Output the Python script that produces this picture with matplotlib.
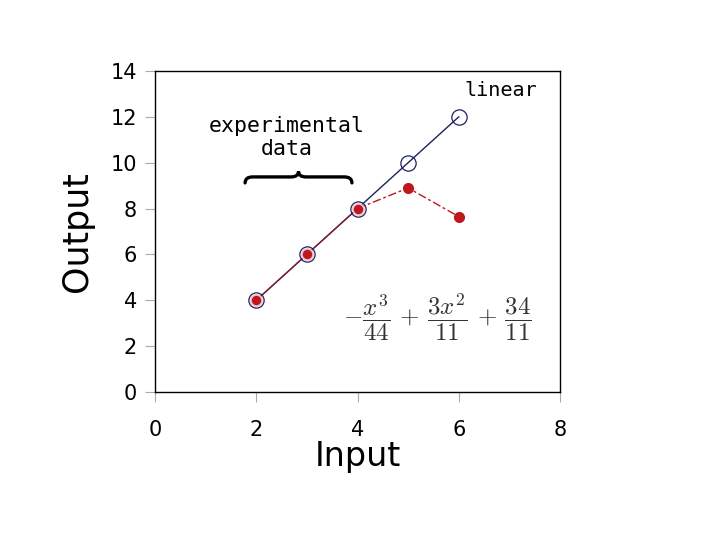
import matplotlib
matplotlib.use("Agg")
import matplotlib.pyplot as plt
import numpy as np
from matplotlib.path import Path
from matplotlib.patches import PathPatch

plt.rcParams['mathtext.fontset'] = 'cm'

# data
exp_x = [2, 3, 4]
exp_y = [4, 6, 8]
lin_x = [2, 3, 4, 5, 6]
lin_y = [4, 6, 8, 10, 12]
cub_x = [4, 5, 6]
cub_y = [8, 8.9, 7.65]
xticks = [0, 2, 4, 6, 8]
yticks = [0, 2, 4, 6, 8, 10, 12, 14]

navy = '#1c2260'
red = '#c0161e'

fig = plt.figure(figsize=(7.2, 5.4), dpi=100)
ax = fig.add_axes([155/720, 1-392/540, 405/720, 321/540])

ax.plot(lin_x, lin_y, '-', color=navy, lw=1.0, zorder=2)
ax.plot(exp_x, exp_y, '-', color='#8a1a2a', lw=0.9, zorder=3)
ax.plot(cub_x, cub_y, color=red, lw=1.0, dashes=(6, 2, 2, 2), zorder=3)
ax.plot(lin_x, lin_y, 'o', mfc='none', mec=navy, ms=11, mew=0.9, zorder=4)
ax.plot(cub_x[1:], cub_y[1:], 'o', color=red, ms=7, mec=red, zorder=5)
ax.plot(exp_x, exp_y, 'o', color=red, ms=8, mec='#f2c4c8', mew=1.2, zorder=5)

ax.set_xlim(0, 8)
ax.set_ylim(0, 14)
ax.set_xticks(xticks)
ax.set_yticks(yticks)
ax.tick_params(axis='both', direction='out', color='#aaaaaa', length=7, width=0.8,
               labelsize=15)
ax.tick_params(axis='x', pad=13)
ax.tick_params(axis='y', pad=6)
for s in ax.spines.values():
    s.set_linewidth(1.0)
    s.set_color('black')

ax.set_xlabel('Input', fontsize=24, labelpad=0)
ax.set_ylabel('Output', fontsize=25, labelpad=12)

ax.text(6.83, 13.13, 'linear', fontsize=14.5, family='DejaVu Sans Mono',
        ha='center', va='center')
ax.text(2.6, 11.1, 'experimental\ndata', fontsize=15.5, family='DejaVu Sans Mono',
        ha='center', va='center', multialignment='center', linespacing=1.2)

# curly brace
x0, x1, xm = 1.78, 3.89, 2.835
yb, yt, ye = 9.38, 9.62, 9.12
dx = 0.15
verts = [
    (x0, ye),
    (x0, yb), (x0 + dx, yb),
    (xm - dx, yb),
    (xm, yb), (xm, yt),
    (xm, yb), (xm + dx, yb),
    (x1 - dx, yb),
    (x1, yb), (x1, ye),
]
codes = [Path.MOVETO,
         Path.CURVE3, Path.CURVE3,
         Path.LINETO,
         Path.CURVE3, Path.CURVE3,
         Path.CURVE3, Path.CURVE3,
         Path.LINETO,
         Path.CURVE3, Path.CURVE3]
ax.add_patch(PathPatch(Path(verts, codes), fc='none', ec='black', lw=2.4, zorder=6,
                       capstyle='round'))

ax.text(5.57, 3.27, r'$-\dfrac{x^3}{44}\,+\,\dfrac{3x^2}{11}\,+\,\dfrac{34}{11}$',
        fontsize=18, ha='center', va='center', color='#333333')

fig.savefig('out.png', dpi=100, facecolor='white')
